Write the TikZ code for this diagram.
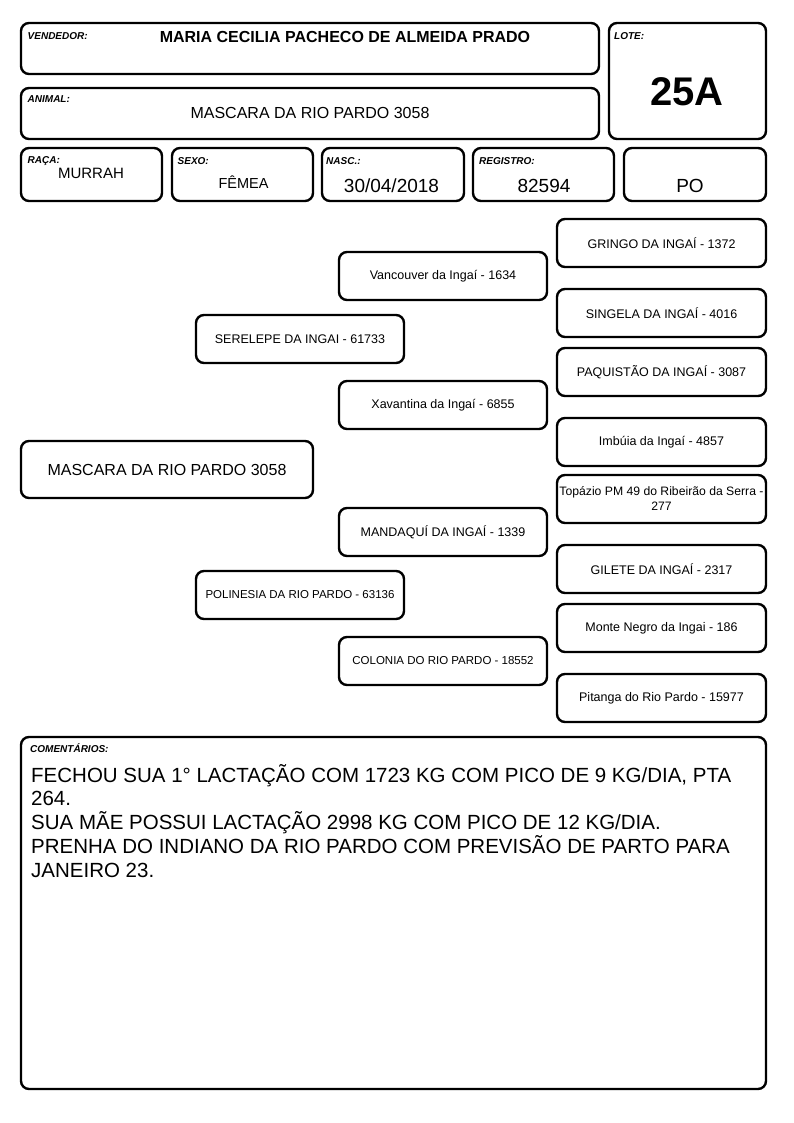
\documentclass[tikz,border=0pt]{standalone}
\usepackage{fontspec}
\setmainfont{Liberation Sans}
\usetikzlibrary{positioning}
\newcommand{\pxsize}[2]{\fontsize{#1pt}{#2pt}\selectfont}

\tikzset{
  card/.style={draw, line width=2.4pt, rounded corners=8pt, inner sep=0pt},
  tag/.style={anchor=west, inner sep=0pt, text height=7.2pt, text depth=0pt, font=\pxsize{10}{12}\bfseries\itshape},
  value/.style={inner sep=0pt, text depth=0pt},
  pedbox/.style={card, minimum width=208pt, minimum height=48pt, align=center, font=\pxsize{12.5}{15}},
}

\begin{document}
\begin{tikzpicture}[x=1pt,y=-1pt]
  \useasboundingbox (0,0) rectangle (794,1123);

  % header cards
  \node[card, minimum width=578pt, minimum height=51pt] (vendedor) at (310,48.5) {};
  \node[card, minimum width=578pt, minimum height=51pt] (animal) at (310,113.5) {};
  \node[card, minimum width=157pt, minimum height=116pt] (lote) at (687.5,81) {};
  \node[card, minimum width=141pt, minimum height=53pt] (raca) at (91.5,174.5) {};
  \node[card, minimum width=141pt, minimum height=53pt] (sexo) at (242.5,174.5) {};
  \node[card, minimum width=142pt, minimum height=53pt] (nasc) at (393,174.5) {};
  \node[card, minimum width=141pt, minimum height=53pt] (registro) at (543.5,174.5) {};
  \node[card, minimum width=142pt, minimum height=53pt] (po) at (695,174.5) {};

  \node[tag] (vendedorlbl) at (27.5,35.7) {VENDEDOR:};
  \node[tag] (animallbl) at (27.5,98.7) {ANIMAL:};
  \node[tag] (lotelbl) at (614,36) {LOTE:};
  \node[tag] (racalbl) at (27.5,160) {RAÇA:};
  \node[tag] (sexolbl) at (177.5,161.3) {SEXO:};
  \node[tag] (nasclbl) at (326,161.3) {NASC.:};
  \node[tag] (registrolbl) at (479,161.3) {REGISTRO:};

  \node[value, text height=11.5pt, font=\pxsize{16}{16}\bfseries] (vendedorval) at (345,37) {MARIA CECILIA PACHECO DE ALMEIDA PRADO};
  \node[value, text height=11.5pt, font=\pxsize{16}{16}] (animalval) at (310,113) {MASCARA DA RIO PARDO 3058};
  \node[value, text height=29pt, font=\pxsize{40}{40}\bfseries] (loteval) at (687,91) {25A};
  \node[value, text height=10.7pt, font=\pxsize{15}{15}] (racaval) at (91,173) {MURRAH};
  \node[value, text height=10.4pt, font=\pxsize{14.5}{14.5}] (sexoval) at (243.5,183.5) {FÊMEA};
  \node[value, text height=13.6pt, font=\pxsize{19}{19}] (nascval) at (391.5,185.3) {30/04/2018};
  \node[value, text height=13.6pt, font=\pxsize{19}{19}] (registroval) at (544,185.3) {82594};
  \node[value, text height=13.6pt, font=\pxsize{19}{19}] (poval) at (690,186) {PO};

  % pedigree
  \node[card, minimum width=292pt, minimum height=57pt, font=\pxsize{16}{16}] (animalped) at (167,469.5) {MASCARA DA RIO PARDO 3058};

  \node[pedbox] (pai) at (300,339) {SERELEPE DA INGAI - 61733};
  \node[pedbox, font=\pxsize{11.5}{14}] (mae) at (300,595) {POLINESIA DA RIO PARDO - 63136};

  \node[pedbox] (avopp) at (443,276) {Vancouver da Ingaí - 1634};
  \node[pedbox] (avopm) at (443,405) {Xavantina da Ingaí - 6855};
  \node[pedbox] (avomp) at (443,532) {MANDAQUÍ DA INGAÍ - 1339};
  \node[pedbox, font=\pxsize{11.5}{14}] (avomm) at (443,661) {COLONIA DO RIO PARDO - 18552};

  \node[pedbox, minimum width=209pt] (bisa1) at (661.5,243) {GRINGO DA INGAÍ - 1372};
  \node[pedbox, minimum width=209pt] (bisa2) at (661.5,313) {SINGELA DA INGAÍ - 4016};
  \node[pedbox, minimum width=209pt] (bisa3) at (661.5,372) {PAQUISTÃO DA INGAÍ - 3087};
  \node[pedbox, minimum width=209pt] (bisa4) at (661.5,442) {Imbúia da Ingaí - 4857};
  \node[pedbox, minimum width=209pt, font=\pxsize{12.2}{15}] (bisa5) at (661.5,499) {Topázio PM 49 do Ribeirão da Serra -\\277};
  \node[pedbox, minimum width=209pt] (bisa6) at (661.5,569) {GILETE DA INGAÍ - 2317};
  \node[pedbox, minimum width=209pt] (bisa7) at (661.5,628) {Monte Negro da Ingai - 186};
  \node[pedbox, minimum width=209pt] (bisa8) at (661.5,698) {Pitanga do Rio Pardo - 15977};

  % comments
  \node[card, minimum width=745pt, minimum height=352pt] (comentarios) at (393.5,913) {};
  \node[tag] (comentarioslbl) at (30,749) {COMENTÁRIOS:};
  \node[anchor=base west, inner sep=0pt, align=left, font=\pxsize{20.5}{23.7}] (comentariostxt) at (31,877)
    {FECHOU SUA 1° LACTAÇÃO COM 1723 KG COM PICO DE 9 KG/DIA, PTA\\
     264.\\
     SUA MÃE POSSUI LACTAÇÃO 2998 KG COM PICO DE 12 KG/DIA.\\
     PRENHA DO INDIANO DA RIO PARDO COM PREVISÃO DE PARTO PARA\\
     JANEIRO 23.};
\end{tikzpicture}
\end{document}
